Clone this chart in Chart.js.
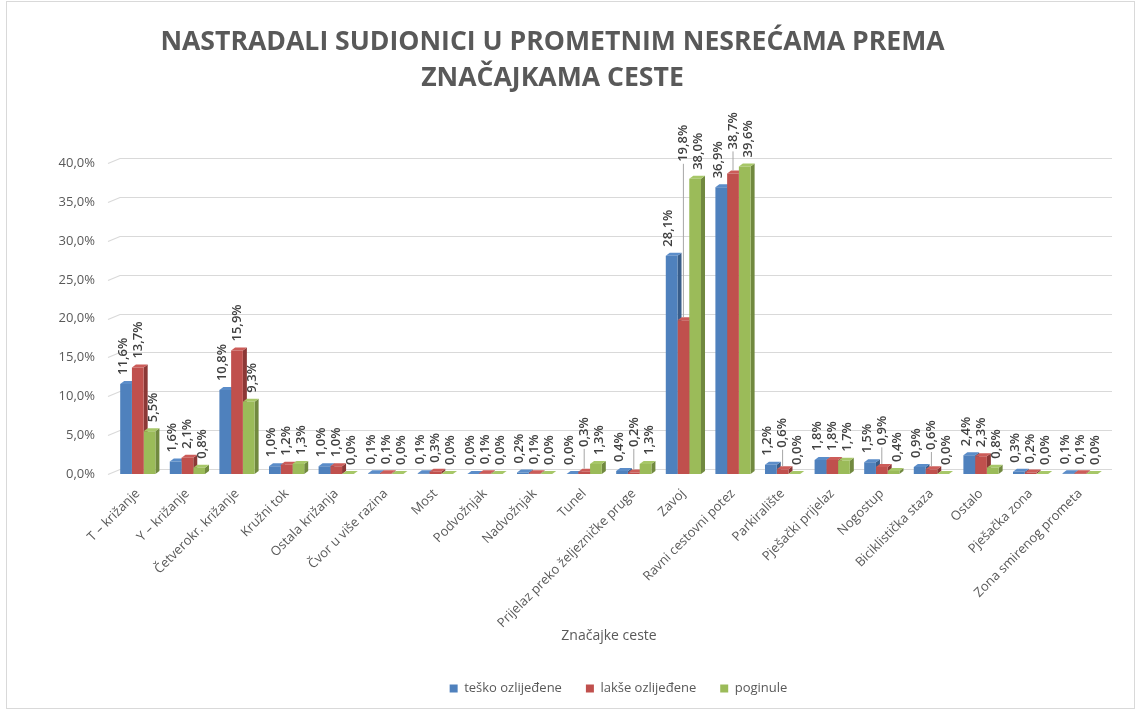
<!DOCTYPE html>
<html>
<head>
<meta charset="utf-8">
<script src="https://cdn.jsdelivr.net/npm/chart.js@4.4.1/dist/chart.umd.min.js"></script>
<style>
  html, body { margin: 0; padding: 0; background: #fff; }
  #wrap { width: 1138px; height: 711px; position: relative; }
</style>
</head>
<body>
<div id="wrap"><canvas id="chart"></canvas></div>
<script>
var categories = ['T – križanje', 'Y – križanje', 'Četverokr. križanje', 'Kružni tok', 'Ostala križanja',
    'Čvor u više razina', 'Most', 'Podvožnjak', 'Nadvožnjak', 'Tunel',
    'Prijelaz preko željezničke pruge', 'Zavoj', 'Ravni cestovni potez', 'Parkiralište', 'Pješački prijelaz',
    'Nogostup', 'Biciklistička staza', 'Ostalo', 'Pješačka zona', 'Zona smirenog prometa'];
var tesko    = [11.6, 1.6, 10.8, 1.0, 1.0, 0.1, 0.1, 0.0, 0.2, 0.0, 0.4, 28.1, 36.9, 1.2, 1.8, 1.5, 0.9, 2.4, 0.3, 0.1];
var lakse    = [13.7, 2.1, 15.9, 1.2, 1.0, 0.1, 0.3, 0.1, 0.1, 0.3, 0.2, 19.8, 38.7, 0.6, 1.8, 0.9, 0.6, 2.3, 0.2, 0.1];
var poginule = [5.5, 0.8, 9.3, 1.3, 0.0, 0.0, 0.0, 0.0, 0.0, 1.3, 1.3, 38.0, 39.6, 0.0, 1.7, 0.4, 0.0, 0.8, 0.0, 0.0];
var seriesNames = ['teško ozlijeđene', 'lakše ozlijeđene', 'poginule'];
var yTicks = [0, 5, 10, 15, 20, 25, 30, 35, 40];

var frontColors = ['#4f81bd', '#c0504d', '#9bbb59'];
var sideColors = ['#385d8a', '#8c3836', '#71893f'];
var topColors = ['#5b8dc9', '#cc5c59', '#a7c768'];
var DX = 4, DY = 3;

function pct(v) {
    return v.toFixed(1).replace('.', ',') + '%';
}

var bars3d = {
    id: 'bars3d',
    beforeDraw: function(chart) {
        var ctx = chart.ctx, a = chart.chartArea, ys = chart.scales.y;
        ctx.save();
        ctx.fillStyle = '#fff';
        ctx.fillRect(0, 0, chart.width, chart.height);
        ctx.strokeStyle = '#d9d9d9';
        ctx.lineWidth = 1;
        ctx.strokeRect(6.5, 1.5, chart.width - 10, chart.height - 4);
        // back wall grid with the little floor slant on the left
        ctx.lineWidth = 1.2;
        yTicks.forEach(function(v) {
            var py = Math.round(ys.getPixelForValue(v)) + 0.5;
            ctx.beginPath();
            ctx.moveTo(a.left - 5, py);
            ctx.lineTo(a.left + 7, py - 5);
            ctx.lineTo(a.right + 7, py - 5);
            ctx.stroke();
        });
        ctx.restore();
    },
    beforeDatasetsDraw: function(chart) {
        var ctx = chart.ctx;
        ctx.save();
        chart.data.datasets.forEach(function(ds, i) {
            chart.getDatasetMeta(i).data.forEach(function(bar) {
                var p = bar.getProps(['x', 'y', 'base', 'width'], true);
                var l = p.x - p.width / 2, r = p.x + p.width / 2;
                var t = Math.min(p.y, p.base), b = p.base;
                ctx.fillStyle = sideColors[i];
                ctx.beginPath();
                ctx.moveTo(r, t); ctx.lineTo(r + DX, t - DY); ctx.lineTo(r + DX, b - DY); ctx.lineTo(r, b);
                ctx.closePath(); ctx.fill();
                ctx.fillStyle = topColors[i];
                ctx.beginPath();
                ctx.moveTo(l, t); ctx.lineTo(l + DX, t - DY); ctx.lineTo(r + DX, t - DY); ctx.lineTo(r, t);
                ctx.closePath(); ctx.fill();
            });
        });
        ctx.restore();
    },
    afterDatasetsDraw: function(chart) {
        var ctx = chart.ctx;
        var metas = chart.data.datasets.map(function(ds, i) { return chart.getDatasetMeta(i); });
        ctx.save();
        ctx.font = '600 13px "Open Sans"';
        ctx.textAlign = 'left';
        ctx.textBaseline = 'middle';
        categories.forEach(function(c, j) {
            var bars = metas.map(function(m) { return m.data[j].getProps(['x', 'y', 'width'], true); });
            var cx = (bars[0].x + bars[bars.length - 1].x) / 2;
            bars.forEach(function(p, i) {
                var lx = cx + (i - 1) * 15;
                var ly = p.y - DY - 6;
                var moved = false;
                // lift the label over a neighbouring bar that it would run into
                bars.forEach(function(q, k) {
                    if (k === i) return;
                    var ql = q.x - q.width / 2, qr = q.x + q.width / 2;
                    if (lx + 6.5 > ql && lx - 6.5 < qr && q.y - DY - 4 < ly) {
                        ly = Math.min(ly, q.y - DY - 14);
                        moved = true;
                    }
                });
                if (moved) {
                    ctx.strokeStyle = '#a6a6a6';
                    ctx.lineWidth = 1;
                    ctx.beginPath();
                    ctx.moveTo(lx, ly + 2);
                    ctx.lineTo(p.x, p.y - DY);
                    ctx.stroke();
                }
                ctx.save();
                ctx.fillStyle = '#404040';
                ctx.translate(lx, ly);
                ctx.rotate(-Math.PI / 2);
                ctx.fillText(pct(chart.data.datasets[i].data[j]), 0, 0);
                ctx.restore();
            });
        });
        ctx.restore();
    },
    afterLayout: function(chart) {
        // legend sits a bit right of centre in the original
        chart.legend.left += 66;
        chart.legend.right += 66;
    }
};

new Chart(document.getElementById('chart'), {
    type: 'bar',
    data: {
        labels: categories,
        datasets: [
            { label: seriesNames[0], data: tesko, backgroundColor: frontColors[0] },
            { label: seriesNames[1], data: lakse, backgroundColor: frontColors[1] },
            { label: seriesNames[2], data: poginule, backgroundColor: frontColors[2] }
        ]
    },
    options: {
        responsive: true,
        maintainAspectRatio: false,
        animation: false,
        datasets: {
            bar: { categoryPercentage: 0.71, barPercentage: 1.0 }
        },
        layout: { padding: { left: 0, right: 33, top: 0, bottom: 6 } },
        plugins: {
            title: {
                display: true,
                text: ['NASTRADALI SUDIONICI U PROMETNIM NESREĆAMA PREMA', 'ZNAČAJKAMA CESTE'],
                color: '#595959',
                font: { family: 'Open Sans', size: 26.6, weight: 'bold', lineHeight: 1.34 },
                padding: { top: 25, bottom: 67 }
            },
            legend: {
                position: 'bottom',
                labels: {
                    color: '#595959',
                    font: { family: 'Open Sans', size: 13 },
                    boxWidth: 8,
                    boxHeight: 8,
                    padding: 24
                }
            },
            tooltip: { enabled: false }
        },
        scales: {
            x: {
                grid: { display: false, drawTicks: false },
                border: { display: false },
                ticks: {
                    color: '#595959',
                    font: { family: 'Open Sans', size: 13 },
                    autoSkip: false,
                    minRotation: 45,
                    maxRotation: 45,
                    padding: 12
                },
                title: {
                    display: true,
                    text: 'Značajke ceste',
                    color: '#595959',
                    font: { family: 'Open Sans', size: 14 },
                    padding: { top: 4, bottom: 14 }
                },
                afterFit: function(s) { s.height = 184; }
            },
            y: {
                min: 0,
                max: 40,
                grid: { display: false, drawTicks: false },
                border: { display: false },
                ticks: {
                    stepSize: 5,
                    color: '#595959',
                    font: { family: 'Open Sans', size: 13 },
                    padding: 18,
                    callback: function(v) { return pct(v); }
                },
                afterFit: function(s) { s.width = 113; }
            }
        }
    },
    plugins: [bars3d]
});
</script>
</body>
</html>
